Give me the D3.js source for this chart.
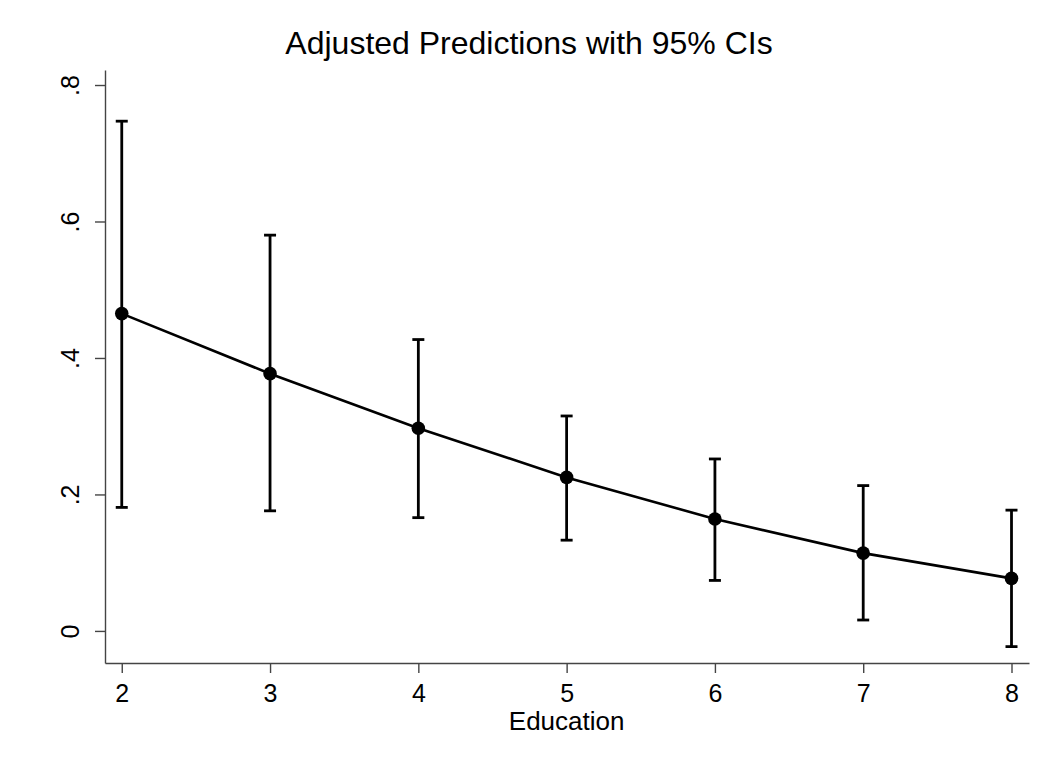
<!DOCTYPE html>
<html>
<head>
<meta charset="utf-8">
<script src="https://cdn.jsdelivr.net/npm/d3@7"></script>
<style>
  body { margin: 0; background: #fff; }
  svg { display: block; font-family: "Liberation Sans", Arial, sans-serif; }
  .axis path, .axis line { stroke: #444; stroke-width: 1.4; }
  .axis text { fill: #000; font-size: 25px; font-family: "Liberation Sans", Arial, sans-serif; }
  .ci, .cap { stroke: #000; stroke-width: 2.8; }
  .d-line { fill: none; stroke: #000; stroke-width: 2.6; }
  .title { font-size: 32px; }
  .x-title { font-size: 26px; }
</style>
</head>
<body>
<div id="chart"></div>
<script>
// Adjusted predictions by education level, with 95% CIs.
const education = [2, 3, 4, 5, 6, 7, 8];
const margin = [0.465, 0.377, 0.297, 0.225, 0.164, 0.114, 0.077];
const ciLow = [0.181, 0.176, 0.166, 0.133, 0.074, 0.016, -0.023];
const ciHigh = [0.747, 0.580, 0.427, 0.315, 0.252, 0.213, 0.177];
const yTicks = [0, 0.2, 0.4, 0.6, 0.8];
const yTickLabels = ["0", ".2", ".4", ".6", ".8"];

const width = 1058, height = 768;
const m = { top: 70, right: 29, bottom: 105, left: 105 };
const iW = width - m.left - m.right, iH = height - m.top - m.bottom;

const x = d3.scaleLinear([1.887, 8.118], [0, iW]);
const y = d3.scaleLinear([-0.047, 0.822], [iH, 0]);

const svg = d3.select("#chart").append("svg")
  .attr("width", width).attr("height", height);
const g = svg.append("g").attr("transform", `translate(${m.left},${m.top})`);

// Axes: Stata-style, outward ticks, domain lines meeting at the corner.
g.append("g").attr("class", "axis").attr("transform", `translate(0,${iH})`)
  .call(d3.axisBottom(x).tickValues(education).tickSize(10).tickSizeOuter(0).tickPadding(11).tickFormat(d3.format("d")));
const yAxis = g.append("g").attr("class", "axis")
  .call(d3.axisLeft(y).tickValues(yTicks).tickSize(10).tickSizeOuter(0)
    .tickFormat((d, i) => yTickLabels[i]));
yAxis.selectAll("text")
  .attr("x", 0).attr("dy", null)
  .attr("transform", "translate(-33,0) rotate(-90)")
  .attr("text-anchor", "middle").attr("dominant-baseline", "middle");

// Confidence intervals with caps.
const pts = education.map((e, i) => ({ e, v: margin[i], lo: ciLow[i], hi: ciHigh[i] }));
const capW = 6;
const ci = g.append("g");
ci.selectAll("line.ci").data(pts).join("line").attr("class", "ci")
  .attr("x1", (d) => x(d.e)).attr("x2", (d) => x(d.e))
  .attr("y1", (d) => y(d.lo)).attr("y2", (d) => y(d.hi));
for (const key of ["lo", "hi"]) {
  ci.selectAll(`line.cap-${key}`).data(pts).join("line").attr("class", `cap cap-${key}`)
    .attr("x1", (d) => x(d.e) - capW).attr("x2", (d) => x(d.e) + capW)
    .attr("y1", (d) => y(d[key])).attr("y2", (d) => y(d[key]));
}

// Connected point estimates.
g.append("path").datum(pts).attr("class", "d-line")
  .attr("d", d3.line().x((d) => x(d.e)).y((d) => y(d.v)));
g.append("g").selectAll("circle").data(pts).join("circle")
  .attr("cx", (d) => x(d.e)).attr("cy", (d) => y(d.v)).attr("r", 6.8).attr("fill", "#000");

// Titles.
svg.append("text").attr("class", "title").attr("x", 529).attr("y", 54).attr("text-anchor", "middle")
  .text("Adjusted Predictions with 95% CIs");
svg.append("text").attr("class", "x-title").attr("x", m.left + x(5)).attr("y", 730).attr("text-anchor", "middle")
  .text("Education");
</script>
</body>
</html>
